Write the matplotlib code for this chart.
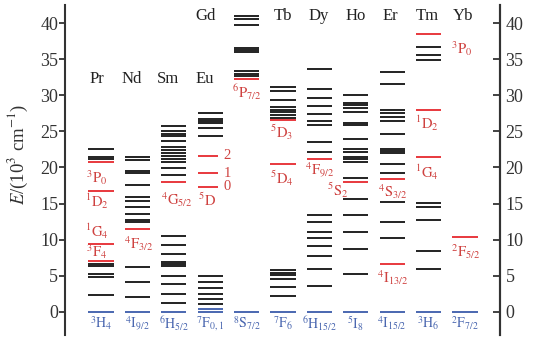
import matplotlib
matplotlib.use('Agg')
import matplotlib.pyplot as plt

plt.rcParams['font.family'] = ['Liberation Serif', 'DejaVu Serif']
plt.rcParams['mathtext.fontset'] = 'stix'

# lanthanide ions, left to right
ELEMENTS = ['Pr', 'Nd', 'Sm', 'Eu', 'Gd', 'Tb', 'Dy', 'Ho', 'Er', 'Tm', 'Yb']
GROUND_TERMS = [r'$^{3}\mathrm{H}_{4}$', r'$^{4}\mathrm{I}_{9/2}$', r'$^{6}\mathrm{H}_{5/2}$',
                r'$^{7}\mathrm{F}_{0,1}$', r'$^{8}\mathrm{S}_{7/2}$', r'$^{7}\mathrm{F}_{6}$',
                r'$^{6}\mathrm{H}_{15/2}$', r'$^{5}\mathrm{I}_{8}$', r'$^{4}\mathrm{I}_{15/2}$',
                r'$^{3}\mathrm{H}_{6}$', r'$^{2}\mathrm{F}_{7/2}$']

# energy levels, 10^3 cm^-1
BLACK_LEVELS = {
    'Pr': [22.5, 21.5, 21.2, 6.6, 6.3, 5.3, 4.8, 2.4],
    'Nd': [21.5, 21.1, 19.5, 19.2, 17.6, 15.9, 15.3, 14.5, 13.6, 12.7, 12.5, 6.2, 4.1, 2.1],
    'Sm': [25.8, 25.1, 24.7, 24.4, 23.6, 22.8, 22.4, 22.0, 21.6, 21.2, 20.8, 19.9, 18.9,
           10.5, 9.2, 8.0, 6.85, 6.6, 6.3, 5.0, 3.8, 2.45, 1.2],
    'Eu': [27.6, 26.7, 26.5, 26.2, 25.4, 24.4, 5.0, 4.2, 3.3, 2.5, 1.8, 1.1],
    'Gd': [41.0, 40.6, 39.7, 36.6, 36.3, 36.0, 33.3, 33.0, 32.7],
    'Tb': [31.1, 30.6, 29.3, 28.4, 28.0, 27.7, 27.2, 26.9, 5.8, 5.45, 5.1, 4.6, 3.5, 2.2],
    'Dy': [33.6, 30.8, 29.6, 28.5, 27.4, 26.4, 25.9, 23.5, 22.1,
           13.4, 12.4, 11.0, 10.3, 9.1, 7.75, 5.9, 3.55],
    'Ho': [30.0, 28.9, 28.6, 28.2, 27.7, 26.2, 25.9, 23.9, 22.5, 22.2, 21.5, 21.15, 20.8,
           18.55, 15.6, 13.4, 11.1, 8.65, 5.25],
    'Er': [33.2, 31.6, 28.0, 27.5, 27.0, 26.4, 24.6, 22.6, 22.3, 22.0, 20.5, 19.2,
           15.2, 12.5, 10.3],
    'Tm': [36.7, 35.6, 34.9, 15.1, 14.5, 12.7, 8.45, 5.95],
    'Yb': [],
}
RED_LEVELS = {
    'Pr': [20.8, 16.8, 9.4, 7.1],
    'Nd': [11.45],
    'Sm': [17.95],
    'Eu': [21.6, 19.2, 17.3],
    'Gd': [32.2],
    'Tb': [26.55, 20.45],
    'Dy': [21.15],
    'Ho': [18.0],
    'Er': [18.4, 6.7],
    'Tm': [38.5, 28.0, 21.4],
    'Yb': [10.4],
}
BLUE_LEVELS = {'Eu': [0.0, 0.37]}

# emitting-level labels: text, column offset, energy
RED_LABELS = [
    (r'$^{3}\mathrm{P}_{0}$', -0.11, 18.6), (r'$^{1}\mathrm{D}_{2}$', -0.11, 15.3),
    (r'$^{1}\mathrm{G}_{4}$', -0.11, 11.2), (r'$^{3}\mathrm{F}_{4}$', -0.11, 8.3),
    (r'$^{4}\mathrm{F}_{3/2}$', 1.03, 9.5), (r'$^{4}\mathrm{G}_{5/2}$', 2.08, 15.5),
    (r'$^{5}\mathrm{D}$', 2.9, 15.5), (r'$^{6}\mathrm{P}_{7/2}$', 4.0, 30.4),
    (r'$^{5}\mathrm{D}_{3}$', 4.96, 24.9), (r'$^{5}\mathrm{D}_{4}$', 4.96, 18.5),
    (r'$^{4}\mathrm{F}_{9/2}$', 6.0, 19.6), (r'$^{5}\mathrm{S}_{2}$', 6.51, 16.9),
    (r'$^{4}\mathrm{S}_{3/2}$', 8.0, 16.6), (r'$^{4}\mathrm{I}_{13/2}$', 8.0, 4.8),
    (r'$^{3}\mathrm{P}_{0}$', 9.92, 36.5), (r'$^{1}\mathrm{D}_{2}$', 8.96, 26.1),
    (r'$^{1}\mathrm{G}_{4}$', 8.96, 19.3), (r'$^{2}\mathrm{F}_{5/2}$', 10.03, 8.3),
]
EU_J = ['2', '1', '0']
NAME_POS = [(-0.12, 32.3), (0.84, 32.3), (1.83, 32.3), (2.84, 32.3), (2.87, 41.0),
            (5.0, 41.0), (5.98, 41.0), (7.0, 41.0), (7.95, 41.0), (8.95, 41.0), (9.95, 41.0)]
YTICKS = [0, 5, 10, 15, 20, 25, 30, 35, 40]

C_BLACK = '#222222'
C_RED = '#e8383d'
C_RED_TXT = '#cf4240'
C_BLUE = '#4a67b0'
HW = 0.345
LW = 1.4

fig = plt.figure(figsize=(5.34, 3.42), dpi=100)
ax = fig.add_axes([65 / 534, 7 / 342, 435 / 534, 330 / 342])
ax.set_xlim(-0.99, 10.96)
ax.set_ylim(-3.2, 42.5)

for i, el in enumerate(ELEMENTS):
    ax.hlines(BLACK_LEVELS[el], i - HW, i + HW, colors=C_BLACK, lw=LW)
    right = i + 0.2 if el == 'Eu' else i + HW
    ax.hlines(RED_LEVELS[el], i - HW, right, colors=C_RED, lw=LW)
    ax.hlines(BLUE_LEVELS.get(el, [0.0]), i - HW, i + HW, colors=C_BLUE, lw=LW)
    ax.text(i, -1.6, GROUND_TERMS[i], color=C_BLUE, fontsize=10, ha='center', va='center')
    nx, ny = NAME_POS[i]
    ax.text(nx, ny, el, color=C_BLACK, fontsize=12, ha='center', va='center')

for txt, x, y in RED_LABELS:
    ax.text(x, y, txt, color=C_RED_TXT, fontsize=10.5, ha='center', va='center')

for j, e in zip(EU_J, RED_LEVELS['Eu']):
    ax.text(3.47, e, j, color=C_RED_TXT, fontsize=10.5, ha='center', va='center')

for s in ['top', 'bottom']:
    ax.spines[s].set_visible(False)
for s in ['left', 'right']:
    ax.spines[s].set_linewidth(1.5)
    ax.spines[s].set_color('#333333')
ax.set_xticks([])
ax.set_yticks(YTICKS)
ax.tick_params(axis='y', direction='out', length=4, width=1.3, color='#333333',
               labelsize=13, pad=1, labelcolor='#333333')

ax2 = ax.twinx()
ax2.set_ylim(ax.get_ylim())
ax2.set_yticks(YTICKS)
ax2.tick_params(axis='y', direction='in', length=5, width=1.3, color='#333333',
                labelsize=13, pad=4, labelcolor='#333333')
for s in ['top', 'bottom', 'left']:
    ax2.spines[s].set_visible(False)
ax2.spines['right'].set_linewidth(1.5)
ax2.spines['right'].set_color('#333333')

fig.text(18 / 534, 1 - 154 / 342, r'$E$/(10$^{3}$ cm$^{-1}$)', rotation=90,
         ha='center', va='center', fontsize=13.5, color='#333333')

fig.savefig('out.png', dpi=100)
